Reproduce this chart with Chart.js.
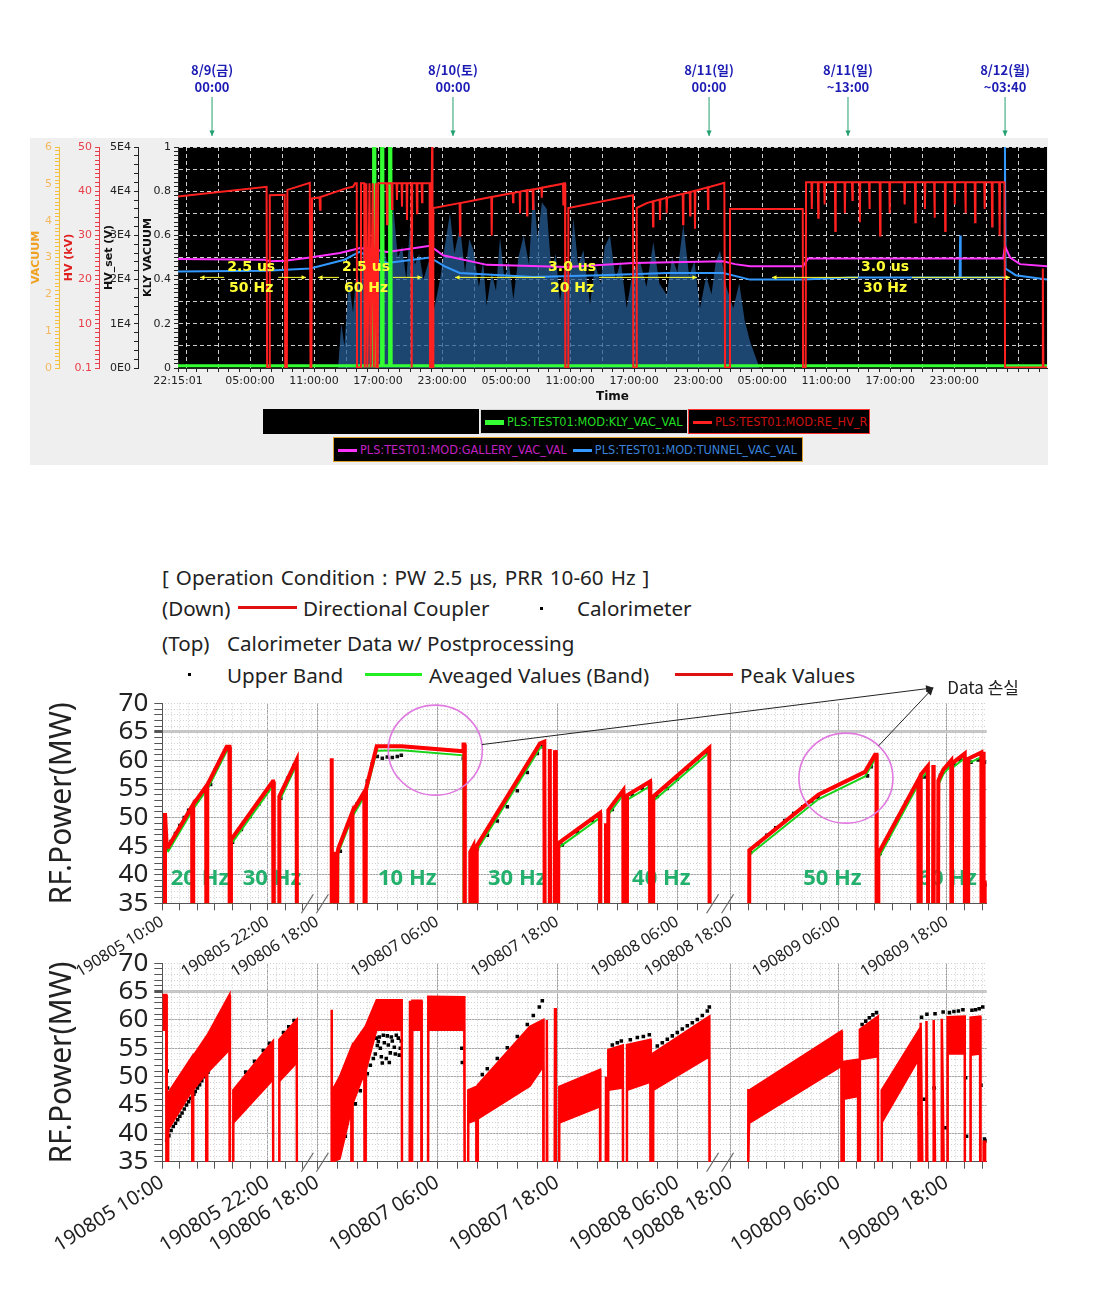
<!DOCTYPE html>
<html>
<head>
<meta charset="utf-8">
<title>Klystron test trend and RF power</title>
<script src="https://cdn.jsdelivr.net/npm/chart.js@4.4.1/dist/chart.umd.min.js"></script>
<style>
  body { margin: 0; background: #fff; }
  #page { position: relative; width: 1096px; height: 1298px; overflow: hidden; }
  canvas { position: absolute; left: 0; }
  .lg { position: absolute; box-sizing: border-box; height: 25px; background: #000; white-space: nowrap;
        font: 12.6px "Liberation Sans Narrow", "DejaVu Sans Condensed", sans-serif; line-height: 23px; }
  .lg i { display: inline-block; width: 19px; vertical-align: middle; margin: 0 3px 0 4px; }
  .tx { position: absolute; white-space: nowrap; font: 20.6px "Noto Sans", "Noto Sans CJK KR", sans-serif; color: #222; line-height: 22px; }
  .ln { position: absolute; height: 3px; }
  .dot { position: absolute; width: 3px; height: 3px; background: #000; }
</style>
</head>
<body>
<div id="page">
  <canvas id="arch" width="1096" height="420" style="top:50px"></canvas>
  <div class="lg" style="left:263px;top:409px;width:216px"></div>
  <div class="lg" style="left:480px;top:409px;width:208px;border:1px solid #d8d8d8;color:#22dd22"><i style="height:5px;background:#33ff33"></i>PLS:TEST01:MOD:KLY_VAC_VAL</div>
  <div class="lg" style="left:688px;top:409px;width:182px;border:1px solid #ff3030;color:#cc1111"><i style="height:3px;background:#ff2020"></i>PLS:TEST01:MOD:RE_HV_R</div>
  <div class="lg" style="left:333px;top:437px;width:470px;border:1px solid #e0a030;color:#c020c0"><i style="height:3px;background:#ff33ff"></i>PLS:TEST01:MOD:GALLERY_VAC_VAL<i style="height:3px;background:#3399ff;margin-left:6px"></i><span style="color:#3a80d8">PLS:TEST01:MOD:TUNNEL_VAC_VAL</span></div>

  <div class="tx" style="left:162px;top:566px;word-spacing:1.7px">[ Operation Condition : PW 2.5 μs, PRR 10-60 Hz ]</div>
  <div class="tx" style="left:162px;top:597px">(Down)</div>
  <div class="ln" style="left:238px;top:606px;width:59px;background:#e01010"></div>
  <div class="tx" style="left:303px;top:597px">Directional Coupler</div>
  <div class="dot" style="left:540px;top:607px"></div>
  <div class="tx" style="left:577px;top:597px">Calorimeter</div>
  <div class="tx" style="left:162px;top:632px">(Top)</div>
  <div class="tx" style="left:227px;top:632px">Calorimeter Data w/ Postprocessing</div>
  <div class="dot" style="left:188px;top:673px"></div>
  <div class="tx" style="left:227px;top:664px">Upper Band</div>
  <div class="ln" style="left:365px;top:673px;width:57px;background:#22ee22"></div>
  <div class="tx" style="left:429px;top:664px">Aveaged Values (Band)</div>
  <div class="ln" style="left:675px;top:673px;width:58px;background:#e01010"></div>
  <div class="tx" style="left:740px;top:664px">Peak Values</div>

  <canvas id="rfDown" width="1096" height="358" style="top:940px"></canvas>
  <canvas id="rfTop" width="1096" height="330" style="top:680px"></canvas>
</div>
<script>
// ---- upper picture: archiver trend, hours after 8/8 22:15:01 ----
const klyVac = [[0, 0.01], [18.3, 0.01], [18.33, 1], [18.45, 1], [18.48, 0.01], [19.05, 0.01], [19.08, 1], [19.2, 1],
  [19.23, 0.01], [19.8, 0.01], [19.83, 1], [19.95, 1], [19.98, 0.01], [81.44, 0.01]];

// RE_HV_R, kV
const hvR = [
  [0, 38.8], [8.3, 41.0], [8.35, 0.1], [8.55, 0.1], [8.6, 39.1], [10.0, 39.2], [10.05, 0.1], [10.2, 0.1],
  [10.25, 40.3], [12.35, 41.9], [12.42, 0.1], [12.5, 0.1], [12.56, 38.4], [13.27, 38.6], [13.31, 35.8],
  [13.36, 38.7], [15.81, 40.7], [16.4, 41.0], [16.6, 41.8], [16.75, 41.8], [16.78, 0.1], [17.1, 0.1],
  [17.15, 41.8], [17.45, 41.8], [17.5, 0.1], [17.65, 41.8], [17.75, 0.1], [17.95, 41.8], [18.05, 0.1],
  [18.25, 41.8], [18.35, 0.1], [18.55, 41.8], [18.6, 0.1], [18.72, 0.1], [18.76, 41.8], [19.55, 41.8],
  [19.59, 32.5], [19.63, 41.8], [20.02, 41.8], [20.06, 36.0], [20.1, 41.8], [20.48, 41.8], [20.52, 38.0],
  [20.56, 41.8], [20.95, 41.8], [20.99, 36.5], [21.03, 41.8], [21.42, 41.8], [21.46, 33.5], [21.5, 41.8],
  [21.86, 41.8], [21.9, 0.1], [21.95, 41.8], [22.36, 41.8], [22.4, 35.0], [22.44, 41.8], [22.83, 41.8],
  [22.87, 37.5], [22.91, 41.8], [23.58, 41.8], [23.62, 0.1], [23.66, 41.8], [23.78, 41.8], [23.81, 50],
  [23.85, 0.1], [23.9, 0.1], [23.93, 36.2],
  [26.39, 37.3], [26.43, 30.0], [26.47, 37.3], [29.36, 38.7], [29.4, 30.0], [29.44, 38.7], [31.37, 39.6],
  [31.4, 37.5], [31.44, 39.6], [32.02, 39.9], [32.05, 35.0], [32.09, 39.9], [32.68, 40.2], [32.71, 34.5],
  [32.75, 40.2], [33.24, 40.4], [33.27, 36.0], [33.31, 40.4], [34.06, 40.8], [34.09, 38.5], [34.13, 40.8],
  [36.08, 41.7], [36.11, 37.0], [36.15, 41.8], [36.27, 41.8], [36.3, 0.1], [36.55, 0.1], [36.58, 36.2],
  [42.64, 39.1], [42.67, 0.1], [42.95, 0.1], [42.99, 36.2], [43.93, 37.3], [44.49, 37.7], [44.52, 32.0],
  [44.56, 37.7], [45.14, 38.1], [45.17, 33.5], [45.21, 38.1], [45.77, 38.5], [45.8, 35.0], [45.84, 38.5],
  [47.3, 39.4], [47.33, 32.5], [47.37, 39.4], [47.96, 39.8], [47.99, 34.5], [48.03, 39.8], [48.42, 40.1],
  [48.45, 31.5], [48.49, 40.1], [49.64, 40.9], [49.67, 36.0], [49.71, 40.9], [51.2, 41.9], [51.27, 0.1],
  [51.68, 0.1], [51.73, 36.0], [58.55, 36.0], [58.58, 0.1], [58.82, 0.1], [58.86, 42.0],
  [59.36, 42], [59.4, 36], [59.44, 42], [59.96, 42], [60.0, 34], [60.04, 42], [60.56, 42], [60.6, 37], [60.64, 42],
  [61.56, 42], [61.6, 31], [61.64, 42], [62.46, 42], [62.5, 35], [62.54, 42], [63.16, 42], [63.2, 38], [63.24, 42],
  [63.86, 42], [63.9, 33], [63.94, 42], [64.76, 42], [64.8, 36], [64.84, 42], [65.76, 42], [65.8, 30], [65.84, 42],
  [66.66, 42], [66.7, 35], [66.74, 42], [68.06, 42], [68.1, 37], [68.14, 42], [69.06, 42], [69.1, 33], [69.14, 42],
  [69.96, 42], [70.0, 36], [70.04, 42], [70.86, 42], [70.9, 34], [70.94, 42], [71.86, 42], [71.9, 31], [71.94, 42],
  [72.76, 42], [72.8, 37], [72.84, 42], [73.76, 42], [73.8, 35], [73.84, 42], [74.66, 42], [74.7, 33], [74.74, 42],
  [75.56, 42], [75.6, 36], [75.64, 42], [76.26, 42], [76.3, 32], [76.34, 42], [76.96, 42], [77.0, 30], [77.04, 42],
  [77.45, 42.0], [77.51, 0.1], [81.0, 0.1], [81.05, 22.5], [81.1, 0.1], [81.44, 0.1]
];

// GALLERY_VAC_VAL and TUNNEL_VAC_VAL on the VACUUM scale
const galleryVac = [[0, 2.96], [8.15, 2.94], [8.62, 2.9], [10.03, 2.91], [12.37, 3.0], [15.18, 3.12], [17.06, 3.26],
  [18.46, 3.21], [19.59, 3.15], [21.74, 3.24], [23.62, 3.32], [24.84, 3.06], [28.96, 2.8], [36.46, 2.74],
  [42.64, 2.85], [51.08, 2.9], [52.2, 2.82], [53.61, 2.76], [58.58, 2.76], [59.04, 2.97], [77.32, 2.97],
  [77.51, 3.3], [77.98, 3.0], [78.91, 2.82], [81.44, 2.76]];
const tunnelVac = [[0, 2.62], [8.3, 2.64], [12.4, 2.7], [15.6, 2.94], [17.0, 3.15], [18.0, 3.0], [19.6, 2.85],
  [22.0, 2.94], [23.6, 3.0], [25.0, 2.76], [26.4, 2.58], [33.3, 2.47], [39.6, 2.52], [45.9, 2.58], [51.1, 2.58],
  [53.6, 2.4], [58.6, 2.4], [63.0, 2.46], [73.25, 2.46], [73.3, 3.6], [73.35, 2.46], [77.45, 2.46], [77.5, 6.0],
  [77.55, 2.7], [78.5, 2.52], [81.44, 2.4]];
const tunnelVacSpread = [[15.0, 0], [15.3, 1.2], [15.6, 0.6], [16.0, 2.4], [16.4, 1.5], [16.75, 2.7], [17.1, 2.0],
  [17.4, 3.6], [17.8, 2.6], [18.2, 3.5], [18.62, 3.94], [19.0, 2.8], [19.4, 3.2], [19.8, 2.5], [20.18, 4.38],
  [20.6, 3.0], [21.0, 3.3], [21.4, 2.4], [21.74, 3.84], [22.2, 2.8], [22.6, 3.1], [23.0, 2.4], [23.5, 2.9],
  [24.0, 1.6], [24.56, 2.4], [25.0, 3.3], [25.49, 4.2], [25.9, 3.1], [26.43, 3.84], [26.9, 2.6], [27.3, 3.5],
  [27.68, 3.21], [28.2, 2.2], [28.6, 2.9], [28.93, 1.68], [29.4, 2.6], [29.8, 2.1], [30.18, 3.54], [30.6, 2.4],
  [31.0, 2.9], [31.43, 1.86], [31.9, 3.0], [32.4, 3.6], [32.9, 2.8], [33.3, 4.92], [33.7, 3.5], [34.1, 4.5],
  [34.56, 4.32], [35.0, 2.6], [35.4, 3.1], [35.8, 1.8], [36.3, 2.9], [36.7, 2.5], [37.05, 4.08], [37.5, 2.8],
  [38.0, 3.2], [38.61, 1.74], [39.1, 2.8], [39.6, 2.3], [40.0, 3.3], [40.49, 3.6], [41.0, 2.4], [41.5, 2.9],
  [42.05, 1.62], [42.6, 2.6], [43.3, 2.9], [43.9, 2.2], [44.55, 3.42], [45.1, 2.3], [45.8, 1.98], [46.3, 3.0],
  [46.8, 2.6], [47.36, 3.9], [47.9, 2.5], [48.4, 2.9], [48.92, 1.62], [49.5, 2.5], [50.0, 2.0], [50.4, 2.9],
  [50.8, 3.18], [51.4, 2.2], [52.04, 1.62], [52.6, 2.3], [53.1, 1.3], [53.61, 0.72], [54.5, 0]];

const dateMarks = [
  { h: 3.19, day: '8/9(금)', time: '00:00' },
  { h: 25.77, day: '8/10(토)', time: '00:00' },
  { h: 49.77, day: '8/11(일)', time: '00:00' },
  { h: 62.79, day: '8/11(일)', time: '~13:00' },
  { h: 77.51, day: '8/12(월)', time: '~03:40' }
];
const runModes = [
  { from: 2.06, to: 12.0, at: 6.86, pw: '2.5 us', prr: '50 Hz' },
  { from: 13.12, to: 22.87, at: 17.62, pw: '2.5 us', prr: '60 Hz' },
  { from: 25.96, to: 48.64, at: 36.93, pw: '3.0 us', prr: '20 Hz' },
  { from: 55.67, to: 77.98, at: 66.26, pw: '3.0 us', prr: '30 Hz' }
];

// ---- lower pictures: RF power (MW), hours after 190805 00:00 ----
const peakValues = [
  [10.3, 0], [10.31, 50.8], [10.5, 45.0], [10.68, 44.9], [13.4, 52.0], [13.43, 0], [13.5, 0], [13.52, 52.3],
  [15.0, 55.5], [15.03, 0], [15.1, 0], [15.12, 55.7], [17.33, 62.4], [17.65, 62.4], [17.7, 0], [17.8, 0],
  [17.82, 46.1], [22.57, 56.3], [22.62, 56.3], [22.7, 0], [23.3, 0], [23.33, 53.7], [25.31, 60.1], [25.35, 0],
  [43.4, 0], [43.44, 60.4], [43.5, 0], [43.6, 44.0], [43.7, 0], [43.8, 44.0], [43.9, 0], [44.0, 43.5], [44.1, 44.6],
  [45.4, 50.5], [45.44, 0], [45.5, 0], [45.52, 51.0], [46.7, 54.5], [46.77, 0], [46.85, 0], [46.87, 55.0],
  [47.94, 62.5], [50.44, 62.5], [56.6, 61.6], [56.62, 62.8], [56.7, 62.8], [56.75, 0], [57.27, 0], [57.3, 44.0],
  [57.6, 45.0], [57.65, 0], [57.9, 0], [57.94, 45.0], [64.27, 63.0], [64.7, 63.3], [64.77, 0], [65.2, 0],
  [65.25, 62.0], [65.3, 0], [65.7, 0], [65.77, 61.8], [65.85, 54.0], [65.9, 0], [66.05, 0], [66.1, 45.5],
  [70.27, 50.8], [70.3, 0], [70.85, 0], [70.87, 49.0], [70.9, 0], [71.05, 0], [71.1, 51.3], [72.6, 54.8],
  [72.62, 0], [72.95, 0], [72.97, 53.9], [75.27, 56.3], [75.3, 0], [75.55, 0], [75.6, 53.7], [81.2, 62.2], [81.27, 0],
  [92.0, 0], [92.07, 44.3], [99.73, 54.0], [104.92, 58.0], [106.03, 61.0], [106.2, 61.0], [106.22, 0], [106.38, 0],
  [106.4, 43.7], [110.84, 56.6], [110.9, 0], [111.05, 0], [111.11, 57.5], [111.9, 59.0], [111.96, 0], [112.45, 0],
  [112.51, 59.2], [112.55, 0], [113.0, 0], [113.07, 56.5], [113.62, 58.4], [114.5, 60.0], [114.55, 0], [114.6, 59.5],
  [116.0, 61.2], [116.03, 0], [116.35, 0], [116.4, 60.3], [117.85, 61.4], [117.89, 0], [118.0, 0], [118.07, 61.5],
  [118.1, 0], [118.35, 0], [118.38, 38.5], [118.44, 39.0]
];
const avgValues = [
  [10.3, 0], [10.31, 50.2], [10.5, 44.2], [10.68, 44.1], [13.4, 51.2], [13.43, 0], [13.5, 0], [13.52, 51.5],
  [15.0, 54.7], [15.03, 0], [15.1, 0], [15.12, 54.9], [17.33, 61.6], [17.65, 61.6], [17.7, 0], [17.8, 0],
  [17.82, 45.3], [22.57, 55.5], [22.62, 55.5], [22.7, 0], [23.3, 0], [23.33, 52.9], [25.31, 59.3], [25.35, 0],
  [43.4, 0], [43.44, 59.6], [43.5, 0], [44.0, 0], [44.1, 43.8], [45.4, 49.7], [45.44, 0], [45.5, 0], [45.52, 50.2],
  [46.7, 53.7], [46.77, 0], [46.85, 0], [46.87, 54.2], [47.94, 61.7], [50.44, 61.8], [56.6, 60.9], [56.65, 0],
  [57.3, 0], [57.32, 43.2], [57.6, 44.2], [57.65, 0], [57.9, 0], [57.94, 44.2], [64.27, 62.2], [64.7, 62.5],
  [64.77, 0], [65.7, 0], [65.77, 61.0], [65.9, 0], [66.05, 0], [66.1, 44.7], [70.27, 50.0], [70.3, 0], [70.85, 0],
  [70.87, 48.2], [70.9, 0], [71.05, 0], [71.1, 50.5], [72.6, 54.0], [72.62, 0], [72.95, 0], [72.97, 53.1],
  [75.27, 55.5], [75.3, 0], [75.55, 0], [75.6, 52.9], [81.2, 61.4], [81.27, 0],
  [92.0, 0], [92.07, 43.5], [99.73, 53.2], [104.92, 57.2], [106.03, 60.2], [106.2, 60.2], [106.22, 0], [106.38, 0],
  [106.4, 42.9], [110.84, 55.8], [110.9, 0], [111.05, 0], [111.11, 56.7], [111.9, 58.2], [111.96, 0], [112.45, 0],
  [112.51, 58.4], [112.55, 0], [113.0, 0], [113.07, 55.7], [113.62, 57.6], [114.5, 59.2], [114.55, 0], [114.6, 58.7],
  [116.0, 60.4], [116.03, 0], [116.35, 0], [116.4, 59.5], [117.85, 60.6], [117.89, 0], [118.0, 0], [118.07, 60.7],
  [118.1, 0], [118.44, 0]
];
const upperBand = [
  [10.5, 44.3], [11.0, 45.8], [11.5, 47.2], [12.0, 48.6], [12.5, 50.0], [13.0, 51.3], [14.0, 53.0], [15.5, 55.8],
  [16.0, 58.3], [16.5, 59.7], [17.0, 61.2], [17.3, 61.9], [18.0, 45.7], [19.0, 47.9], [20.0, 50.2], [21.0, 52.4],
  [22.0, 54.7], [22.5, 55.7], [23.5, 53.4], [24.3, 56.9], [25.0, 59.1],
  [44.3, 44.1], [45.0, 48.4], [46.0, 52.4], [47.0, 56.4], [47.5, 59.4], [48.0, 60.7], [48.5, 60.4], [49.0, 60.6],
  [49.5, 60.5], [50.0, 60.7], [50.4, 60.9], [56.6, 60.4], [58.0, 44.5], [59.0, 46.9], [60.0, 49.4], [61.0, 51.9],
  [62.0, 54.7], [63.0, 57.9], [64.0, 61.2], [64.5, 62.4], [66.5, 45.2], [68.0, 47.5], [69.5, 49.5], [70.2, 50.3],
  [71.5, 51.4], [72.4, 53.9], [73.5, 53.9], [74.5, 55.1], [75.2, 55.7], [76.0, 53.7], [77.0, 55.1], [78.0, 56.7],
  [79.0, 58.5], [80.0, 60.3], [81.0, 61.4],
  [92.2, 43.9], [93.0, 45.4], [94.0, 46.9], [95.0, 48.2], [96.0, 49.5], [97.0, 50.7], [98.0, 51.9], [99.0, 52.9],
  [99.7, 53.5], [105.2, 57.3], [105.6, 58.9], [106.0, 60.3], [106.6, 43.7], [107.5, 46.4], [108.5, 49.7],
  [109.5, 52.7], [110.5, 55.4], [111.5, 57.1], [113.3, 57.4], [114.0, 58.7], [114.8, 59.5], [115.5, 60.1],
  [116.7, 59.7], [117.5, 60.1], [118.2, 59.7], [118.4, 38.2]
];
// directional coupler band: [hour, low, high]
const dcBand = [
  [10.0, 58.2, 64.4], [10.45, 58.2, 64.4], [10.5, 0, 0], [10.62, 0, 0], [10.68, 40.6, 47.1],
  [13.4, 47.5, 53.5], [13.43, 0, 0], [13.5, 0, 0], [13.52, 47.6, 53.6], [15.0, 50.5, 57.0], [15.03, 0, 0],
  [15.1, 0, 0], [15.12, 50.6, 57.2], [17.65, 54.7, 64.4], [17.7, 0, 0], [18.05, 0, 0], [18.09, 41.8, 47.6],
  [22.6, 49.4, 56.2], [22.68, 0, 0], [23.3, 0, 0], [23.33, 49.1, 56.5], [25.31, 52.4, 60.0], [25.35, 0, 0],
  [43.4, 0, 0], [43.44, 50.0, 61.8], [43.5, 0, 0], [43.6, 0, 0], [43.65, 35.0, 48.0], [44.27, 35.5, 50.0],
  [45.4, 44.0, 55.0], [45.44, 0, 0], [45.5, 0, 0], [45.52, 45.0, 55.5], [46.7, 50.5, 58.5], [46.77, 0, 0],
  [46.85, 0, 0], [46.87, 51.0, 59.0], [47.94, 58.2, 63.5], [50.44, 58.2, 63.5], [50.5, 0, 0], [51.2, 0, 0],
  [51.27, 58.2, 63.4], [51.35, 0, 0], [51.45, 0, 0], [51.5, 58.2, 63.4], [52.4, 58.2, 63.4], [52.44, 0, 0],
  [53.05, 0, 0], [53.1, 58.2, 64.1], [56.7, 58.2, 64.0], [56.77, 0, 0], [57.05, 0, 0], [57.1, 41.8, 47.6],
  [57.9, 42.3, 48.2], [57.94, 0, 0], [58.0, 0, 0], [58.05, 42.5, 48.5], [63.27, 48.3, 58.8], [64.6, 51.8, 60.0],
  [64.62, 0, 0], [64.9, 0, 0], [64.95, 52.0, 60.0], [65.05, 0, 0], [65.7, 0, 0], [65.77, 40.0, 62.1],
  [65.85, 0, 0], [66.15, 0, 0], [66.2, 41.8, 48.2], [70.27, 44.7, 51.2], [70.3, 0, 0], [70.8, 0, 0],
  [70.87, 44.7, 50.0], [70.9, 0, 0], [71.05, 0, 0], [71.1, 47.6, 54.7], [72.55, 48.0, 55.5], [72.6, 0, 0],
  [72.95, 0, 0], [72.97, 47.6, 55.6], [75.3, 49.0, 56.5], [75.35, 0, 0], [75.55, 0, 0], [75.6, 47.6, 54.1],
  [81.2, 53.5, 60.6], [81.27, 0, 0],
  [91.9, 0, 0], [91.96, 35.0, 47.6], [92.1, 41.8, 47.6], [102.3, 51.8, 58.0], [102.35, 0, 0], [102.5, 0, 0],
  [102.55, 46.0, 52.6], [104.15, 46.5, 53.0], [104.18, 0, 0], [104.3, 0, 0], [104.35, 53.0, 58.3],
  [106.35, 53.5, 60.6], [106.4, 0, 0], [106.7, 0, 0], [106.78, 41.8, 47.6], [110.84, 52.9, 58.0],
  [110.95, 0, 0], [111.05, 0, 0], [111.1, 53.0, 59.5], [111.55, 0, 0], [111.7, 0, 0], [111.75, 53.5, 59.8],
  [111.96, 0, 0], [112.5, 0, 0], [112.55, 53.5, 60.0], [112.9, 0, 0], [113.4, 0, 0], [113.45, 53.5, 60.2],
  [113.95, 0, 0], [114.05, 0, 0], [114.1, 54.0, 60.5], [116.0, 54.0, 60.6], [116.03, 0, 0], [116.6, 0, 0],
  [116.65, 53.8, 60.4], [117.7, 54.0, 60.6], [117.75, 0, 0], [118.07, 0, 0], [118.1, 35.0, 38.5], [118.44, 35.0, 38.5]
];
const calorimeter = [
  [10.5, 38.8], [10.55, 51.0], [10.6, 48.0], [10.75, 39.6], [11.0, 40.5], [11.25, 41.2], [11.5, 41.8], [11.75, 42.4],
  [12.0, 43.0], [12.25, 43.6], [12.5, 44.3], [12.75, 45.0], [13.0, 45.6], [13.25, 46.2], [13.6, 46.9], [13.75, 47.4],
  [14.0, 48.0], [14.25, 48.6], [14.5, 49.3], [14.75, 50.0], [15.2, 50.8], [15.5, 51.8], [15.75, 52.4], [16.0, 53.0],
  [16.25, 53.8], [16.5, 54.5], [16.75, 55.2], [17.0, 55.8], [17.25, 56.6], [17.5, 57.3],
  [19.5, 50.8], [20.5, 52.7], [21.5, 54.6], [22.2, 55.9], [23.8, 57.8], [24.4, 58.8], [25.0, 59.9],
  [44.3, 37.7], [44.8, 39.5], [45.0, 41.8], [45.3, 43.5], [45.8, 45.2], [46.3, 47.5], [46.6, 49.8],
  [47.0, 50.5], [47.3, 52.0], [47.6, 53.2], [47.8, 54.0], [47.9, 56.8], [48.0, 55.5], [48.1, 56.2], [48.2, 57.0],
  [48.3, 55.0], [48.4, 53.5], [48.5, 52.4], [48.6, 57.3], [48.7, 56.0], [48.9, 53.2], [49.0, 57.2], [49.1, 55.6],
  [49.2, 52.5], [49.3, 54.2], [49.4, 57.0], [49.5, 56.3], [49.7, 55.2], [49.8, 54.0], [49.9, 57.3], [50.1, 56.8],
  [50.2, 53.8], [50.3, 55.0], [50.4, 56.3], [56.45, 55.0], [56.5, 52.5],
  [58.5, 50.4], [59.0, 51.4], [60.0, 53.2], [61.0, 55.1], [62.0, 57.1], [63.0, 59.2], [63.6, 60.8], [64.2, 62.3],
  [64.5, 63.4], [71.5, 55.6], [72.0, 56.0], [72.4, 56.3], [73.3, 56.5], [74.0, 56.9], [74.6, 57.1], [75.2, 57.4],
  [76.0, 55.4], [76.5, 56.0], [77.0, 56.6], [77.5, 57.2], [78.0, 57.8], [78.5, 58.4], [79.0, 59.0], [79.5, 59.5],
  [80.0, 60.1], [80.5, 60.8], [81.0, 61.6], [81.2, 62.3],
  [104.6, 59.2], [105.0, 59.8], [105.4, 60.4], [105.8, 60.9], [106.2, 61.3],
  [110.9, 50.5], [110.95, 43.5], [111.2, 60.5], [111.5, 46.0], [111.8, 61.0], [112.6, 48.0], [112.7, 61.1],
  [113.6, 61.4], [113.9, 41.0], [114.3, 61.3], [114.8, 61.5], [115.3, 61.6], [115.8, 61.8], [116.1, 49.8],
  [116.2, 39.5], [116.8, 61.7], [117.2, 61.8], [117.6, 62.0], [117.8, 48.5], [118.0, 62.3], [118.2, 39.0], [118.3, 38.7]
];
const bandLabels = [
  { t: 14.3, text: '20 Hz' }, { t: 22.5, text: '30 Hz' }, { t: 51.0, text: '10 Hz' }, { t: 62.0, text: '30 Hz' },
  { t: 76.4, text: '40 Hz' }, { t: 101.3, text: '50 Hz' }, { t: 114.1, text: '60 Hz' }
];
const dataLoss = [[53.8, 61.8], [102.8, 56.9]];
const lossLabelAt = [112.5, 72.7];
const timeLabels = [10, 22, 42, 54, 66, 78, 90, 102, 114];

// broken time axis: three stretches with their own hour width
const axisSegments = [
  { from: 10, to: 27.1, u: 0, perHour: 8.78 },
  { from: 41.6, to: 81.35, u: 151.0, perHour: 10 },
  { from: 89.4, to: 118.44, u: 563.0, perHour: 9 }
];
function toU(t) {
  const s = axisSegments.find(g => t <= g.to) || axisSegments[axisSegments.length - 1];
  return s.u + (t - s.from) * s.perHour;
}
const uMax = toU(118.44);
const axisGaps = [[axisSegments[0].to, axisSegments[1].from], [axisSegments[1].to, axisSegments[2].from]];

const rfTicks = [], rfMinor = [];
axisSegments.forEach(s => {
  for (let t = Math.ceil(s.from / 2) * 2; t <= s.to; t += 2) rfTicks.push(t);
  for (let t = Math.ceil(s.from); t <= s.to; t++) rfMinor.push(t);
});
function stamp(t) {
  if (!timeLabels.includes(t)) return '';
  return '1908' + String(5 + Math.floor(t / 24)).padStart(2, '0') + ' ' + String(t % 24).padStart(2, '0') + ':00';
}
const mwTicks = [];
for (let v = 35; v <= 70; v++) mwTicks.push(v);

function arrow(ctx, x1, y1, x2, y2, head) {
  const a = Math.atan2(y2 - y1, x2 - x1);
  ctx.beginPath(); ctx.moveTo(x1, y1); ctx.lineTo(x2, y2); ctx.stroke();
  ctx.beginPath(); ctx.moveTo(x2, y2);
  ctx.lineTo(x2 - head * Math.cos(a - 0.45), y2 - head * Math.sin(a - 0.45));
  ctx.lineTo(x2 - head * Math.cos(a + 0.45), y2 - head * Math.sin(a + 0.45));
  ctx.closePath(); ctx.fill();
}

Chart.defaults.font.family = '"DejaVu Sans", sans-serif';

// ================= archiver picture =================
const archTicks = [0];
for (let k = 0; k <= 80; k++) archTicks.push(0.75 + k);
function clockLabel(h) {
  if (h === 0) return '22:15:01';
  if (h < 6 || h > 73 || (h - 0.75) % 6 !== 0) return '';
  return String((22.25 + h) % 24).padStart(2, '0') + ':00:00';
}

function rulerAxis(o) {
  return {
    position: 'left', weight: o.weight, min: o.min, max: o.max,
    afterFit: s => { s.width = o.width; },
    afterBuildTicks: s => { s.ticks = o.ticks.map(v => ({ value: v })); },
    ticks: { autoSkip: false, color: o.color, padding: 3, font: { size: 11 }, callback: (v, i) => o.labels[i] },
    grid: { drawOnChartArea: !!o.gridColor, color: o.gridColor || '#000', tickLength: 4, tickColor: o.line },
    border: { color: o.line, dash: [4, 3] },
    title: { display: true, text: o.title, color: o.titleColor, font: { size: 11, weight: 'bold' } }
  };
}
function steps(n, f) { const a = []; for (let i = 0; i <= n; i++) a.push(f(i)); return a; }

const archMarks = {
  id: 'archMarks',
  beforeDraw(chart) {
    const { ctx, chartArea: a } = chart;
    ctx.save();
    ctx.fillStyle = '#efefef';
    ctx.fillRect(30, 88, 1018, 327);
    ctx.fillStyle = '#000';
    ctx.fillRect(a.left, a.top, a.right - a.left, a.bottom - a.top);
    ctx.restore();
  },
  afterDatasetsDraw(chart) {
    const { ctx, scales: { x, kly } } = chart;
    ctx.save();
    ctx.fillStyle = '#ffff33'; ctx.strokeStyle = '#ffff33'; ctx.lineWidth = 1;
    ctx.font = 'bold 14px "DejaVu Sans"'; ctx.textAlign = 'center'; ctx.textBaseline = 'middle';
    runModes.forEach(m => {
      const cx = x.getPixelForValue(m.at);
      const half = Math.max(ctx.measureText(m.pw).width, ctx.measureText(m.prr).width) / 2 + 3;
      const ay = kly.getPixelForValue(0.41);
      ctx.fillText(m.pw, cx, kly.getPixelForValue(0.455));
      ctx.fillText(m.prr, cx, kly.getPixelForValue(0.36));
      arrow(ctx, cx - half, ay, x.getPixelForValue(m.from), ay, 5);
      arrow(ctx, cx + half, ay, x.getPixelForValue(m.to), ay, 5);
    });
    ctx.restore();
  },
  afterDraw(chart) {
    const { ctx, scales: { x } } = chart;
    ctx.save();
    ctx.textAlign = 'center'; ctx.textBaseline = 'middle';
    ctx.font = 'bold 13px "Noto Sans CJK KR"';
    dateMarks.forEach(d => {
      const px = x.getPixelForValue(d.h);
      ctx.fillStyle = '#1c1cb4';
      ctx.fillText(d.day, px, 20);
      ctx.fillText(d.time, px, 37);
      ctx.strokeStyle = '#23a070'; ctx.fillStyle = '#23a070'; ctx.lineWidth = 1;
      arrow(ctx, px, 47, px, 86, 6);
    });
    ctx.restore();
  }
};

const line = (arr, color, width, yAxisID, order) => ({
  data: arr.map(r => ({ x: r[0], y: r[1] })), borderColor: color, borderWidth: width,
  yAxisID: yAxisID, order: order, pointRadius: 0, fill: false
});

new Chart(document.getElementById('arch'), {
  type: 'line',
  data: {
    datasets: [
      line(hvR, '#ff2020', 2, 'hv', 1),
      line(klyVac, '#33ff33', 3, 'kly', 2),
      line(galleryVac, '#ff33ff', 2, 'vac', 3),
      line(tunnelVac, '#3399ff', 2, 'vac', 4),
      Object.assign(line(tunnelVacSpread, 'rgba(0,0,0,0)', 0, 'vac', 5), { fill: 'origin', backgroundColor: 'rgba(38,92,150,0.75)' })
    ]
  },
  options: {
    responsive: false, animation: false, devicePixelRatio: 1,
    layout: { padding: { left: 26, right: 49, top: 97, bottom: 62 } },
    plugins: { legend: { display: false }, tooltip: { enabled: false } },
    scales: {
      x: {
        type: 'linear', min: 0, max: 81.44,
        afterFit: s => { s.height = 40; },
        afterBuildTicks: s => { s.ticks = archTicks.map(v => ({ value: v })); },
        ticks: { autoSkip: false, maxRotation: 0, color: '#222', padding: 3, font: { size: 11 }, callback: (v, i) => clockLabel(archTicks[i]) },
        grid: { color: c => ((archTicks[c.index] - 0.75) % 3 === 0 ? 'rgba(255,255,255,0.8)' : 'rgba(0,0,0,0)'), tickLength: 4, tickColor: '#222' },
        border: { color: '#222', dash: [4, 3] },
        title: { display: true, text: 'Time', color: '#111', font: { size: 12, weight: 'bold' } }
      },
      kly: rulerAxis({ weight: 0, width: 40, min: 0, max: 1, title: 'KLY VACUUM', titleColor: '#111', color: '#222', line: '#222',
        ticks: steps(50, i => i / 50), labels: steps(50, i => (i % 10 === 0 ? String(i / 50) : '')),
        gridColor: c => (c.index % 5 === 0 ? 'rgba(255,255,255,0.8)' : 'rgba(0,0,0,0)') }),
      hvset: rulerAxis({ weight: 1, width: 39, min: 0, max: 50000, title: 'HV_set (V)', titleColor: '#111', color: '#222', line: '#222',
        ticks: steps(25, i => i * 2000), labels: steps(25, i => (i % 5 === 0 ? (i / 5) + 'E' + (i ? 4 : 0) : '')) }),
      hv: rulerAxis({ weight: 2, width: 40, min: 0, max: 50, title: 'HV (kV)', titleColor: '#e02020', color: '#e8404a', line: '#e8404a',
        ticks: steps(50, i => i), labels: steps(50, i => (i % 10 === 0 ? (i === 0 ? '0.1' : String(i)) : '')) }),
      vac: rulerAxis({ weight: 3, width: 33, min: 0, max: 6, title: 'VACUUM', titleColor: '#f0a020', color: '#f3b860', line: '#f5c040',
        ticks: steps(60, i => i / 10), labels: steps(60, i => (i % 10 === 0 ? String(i / 10) : '')) })
    }
  },
  plugins: [archMarks]
});

// ================= RF power pictures =================
const rfMarks = {
  id: 'rfMarks',
  beforeDatasetsDraw(chart, args, o) {
    if (!o.bands) return;
    const { ctx, scales: { x, y } } = chart;
    ctx.save();
    ctx.fillStyle = '#22b06c';
    ctx.font = 'bold 22px "Noto Sans"';
    ctx.textAlign = 'center'; ctx.textBaseline = 'middle';
    bandLabels.forEach(b => ctx.fillText(b.text, x.getPixelForValue(toU(b.t)), y.getPixelForValue(39.3)));
    ctx.restore();
  },
  afterDraw(chart, args, o) {
    const { ctx, chartArea: a, scales: { x, y } } = chart;
    ctx.save();
    ctx.strokeStyle = '#666'; ctx.lineWidth = 1.2;
    axisGaps.forEach(g => {
      const xm = (x.getPixelForValue(toU(g[0])) + x.getPixelForValue(toU(g[1]))) / 2 + 2;
      [-7.5, 7.5].forEach(d => {
        ctx.beginPath(); ctx.moveTo(xm + d - 6, a.bottom + 10); ctx.lineTo(xm + d + 6, a.bottom - 9); ctx.stroke();
      });
    });
    if (o.loss) {
      const tx = x.getPixelForValue(toU(lossLabelAt[0])), ty = y.getPixelForValue(lossLabelAt[1]);
      ctx.strokeStyle = '#e07ae0'; ctx.lineWidth = 1.6;
      dataLoss.forEach(m => {
        ctx.beginPath();
        ctx.ellipse(x.getPixelForValue(toU(m[0])), y.getPixelForValue(m[1]), 47, 45, 0, 0, Math.PI * 2);
        ctx.stroke();
      });
      ctx.strokeStyle = '#222'; ctx.fillStyle = '#222'; ctx.lineWidth = 1;
      dataLoss.forEach(m => {
        const cx = x.getPixelForValue(toU(m[0])), cy = y.getPixelForValue(m[1]);
        const ang = Math.atan2(ty - cy, tx - cx);
        arrow(ctx, cx + 47 * Math.cos(ang), cy + 45 * Math.sin(ang), tx, ty, 8);
      });
      ctx.font = '17px "Noto Sans CJK KR"'; ctx.textAlign = 'left'; ctx.textBaseline = 'middle';
      ctx.fillText('Data 손실', tx + 14, ty);
    }
    ctx.restore();
  }
};

function rfChart(id, datasets, o) {
  return new Chart(document.getElementById(id), {
    type: 'line',
    data: { datasets: datasets },
    options: {
      responsive: false, animation: false, devicePixelRatio: 1,
      layout: { padding: { left: 40, right: 109.3, top: 23.3, bottom: 0 } },
      plugins: { legend: { display: false }, tooltip: { enabled: false }, rfMarks: o.marks },
      scales: {
        x: {
          type: 'linear', min: 0, max: uMax, weight: 0,
          afterFit: s => { s.height = o.xHeight; },
          afterBuildTicks: s => { s.ticks = rfTicks.map(t => ({ value: toU(t) })); },
          ticks: { autoSkip: false, minRotation: 32, maxRotation: 32, padding: 2, color: '#222',
            font: { size: o.xFont, family: '"Noto Sans"' }, callback: (v, i) => stamp(rfTicks[i]) },
          grid: { color: c => (timeLabels.includes(rfTicks[c.index]) ? '#9a9a9a' : 'rgba(0,0,0,0)'), tickColor: '#555', tickLength: 7 },
          border: { color: '#555' }
        },
        xMinor: {
          type: 'linear', min: 0, max: uMax, position: 'bottom', weight: 1,
          afterFit: s => { s.height = 0; },
          afterBuildTicks: s => { s.ticks = rfMinor.map(t => ({ value: toU(t) })); },
          ticks: { display: false, autoSkip: false },
          grid: { color: '#d2d2d2', drawTicks: false },
          border: { display: false, dash: [1, 2] }
        },
        y: {
          min: 35, max: 70, position: 'left', weight: 0,
          afterFit: s => { s.width = 122.3; },
          afterBuildTicks: s => { s.ticks = mwTicks.map(v => ({ value: v })); },
          ticks: { autoSkip: false, padding: 6, color: '#222', font: { size: 26, family: '"Noto Sans"' },
            callback: v => (v % 5 === 0 ? String(v) : '') },
          grid: {
            color: c => {
              const v = c.tick ? c.tick.value : 0;
              if (v === 65) return '#c4c4c4';
              return v % 5 === 0 && v > 35 && v < 70 ? '#a8a8a8' : 'rgba(0,0,0,0)';
            },
            lineWidth: c => (c.tick && c.tick.value === 65 ? 3 : 1),
            tickColor: '#555', tickLength: 8
          },
          border: { color: '#555' },
          title: { display: true, text: 'RF.Power(MW)', color: '#222', font: { size: 30, family: '"Noto Sans"' } }
        },
        yMinor: {
          min: 35, max: 70, position: 'left', weight: 1,
          afterFit: s => { s.width = 0; },
          afterBuildTicks: s => { s.ticks = mwTicks.map(v => ({ value: v })); },
          ticks: { display: false, autoSkip: false },
          grid: { color: '#d2d2d2', drawTicks: false },
          border: { display: false, dash: [1, 2] }
        }
      }
    },
    plugins: [rfMarks]
  });
}
const rfPts = (arr, k) => arr.map(r => ({ x: toU(r[0]), y: r[k] }));

rfChart('rfTop', [
  { data: rfPts(peakValues, 1), borderColor: '#ff0000', borderWidth: 4, pointRadius: 0, order: 0, clip: 0 },
  { data: rfPts(avgValues, 1), borderColor: '#19d219', borderWidth: 2, pointRadius: 0, order: 1, clip: 0 },
  { data: rfPts(upperBand, 1), showLine: false, pointRadius: 2.5, pointStyle: 'rect', backgroundColor: '#111', borderWidth: 0, order: 2, clip: 0 }
], { xHeight: 106.7, xFont: 16, marks: { bands: true, loss: true } });

rfChart('rfDown', [
  { data: rfPts(dcBand, 2), borderColor: '#ff0000', borderWidth: 2.5, pointRadius: 0, fill: '+1', backgroundColor: '#ff0000', order: 0, clip: 0 },
  { data: rfPts(dcBand, 1), borderColor: '#ff0000', borderWidth: 1.5, pointRadius: 0, order: 1, clip: 0 },
  { data: rfPts(calorimeter, 1), showLine: false, pointRadius: 2.5, pointStyle: 'rect', backgroundColor: '#000', borderWidth: 0, order: 2, clip: 0 }
], { xHeight: 136.3, xFont: 20, marks: { bands: false, loss: false } });
</script>
</body>
</html>
